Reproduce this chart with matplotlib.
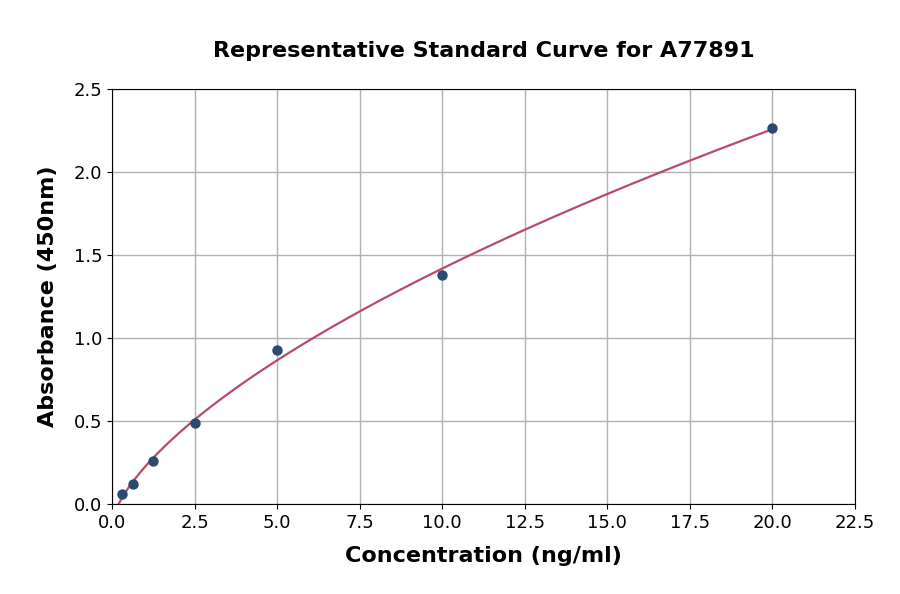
import numpy as np
import matplotlib
matplotlib.use('Agg')
import matplotlib.pyplot as plt

# Standard points
conc = [0.3125, 0.625, 1.25, 2.5, 5.0, 10.0, 20.0]
absorb = [0.06, 0.12, 0.259, 0.488, 0.928, 1.38, 2.265]

x_ticks = [0, 2.5, 5, 7.5, 10, 12.5, 15, 17.5, 20, 22.5]
y_ticks = [0, 0.5, 1.0, 1.5, 2.0, 2.5]

title = 'Representative Standard Curve for A77891'
x_label = 'Concentration (ng/ml)'
y_label = 'Absorbance (450nm)'


# 4PL fit: grid over slope/midpoint, linear solve for top/bottom
def fit_4pl(x, y):
    x = np.asarray(x)
    y = np.asarray(y)
    best = None
    for b in np.linspace(0.5, 2.0, 151):
        for c in np.logspace(0, 3, 301):
            g = 1.0 / (1.0 + (x / c) ** b)
            A = np.column_stack([g, 1 - g])
            coef, res, _, _ = np.linalg.lstsq(A, y, rcond=None)
            err = np.sum((A @ coef - y) ** 2)
            if best is None or err < best[0]:
                best = (err, coef[0], b, c, coef[1])
    return best[1:]


a, b, c, d = fit_4pl(conc, absorb)
xs = np.linspace(0.08, max(conc), 400)
ys = d + (a - d) / (1.0 + (xs / c) ** b)

fig = plt.figure(figsize=(9, 5.94), dpi=100)
ax = fig.add_axes([0.1244, 0.1515, 0.8256, 0.6987])

ax.plot(xs, ys, color='#b84a6e', linewidth=1.6, zorder=3)
ax.scatter(conc, absorb, color='#2a4a6e', s=42, zorder=4)

ax.set_xlim(0, 22.5)
ax.set_ylim(0, 2.5)
ax.set_xticks(x_ticks)
ax.set_xticklabels([f'{t:.1f}' for t in x_ticks])
ax.set_yticks(y_ticks)
ax.set_yticklabels([f'{t:.1f}' for t in y_ticks])
ax.tick_params(labelsize=13)
ax.grid(True, color='#b0b0b0', linewidth=1)
ax.set_axisbelow(True)

ax.set_xlabel(x_label, fontsize=16, fontweight='bold', labelpad=10)
ax.set_ylabel(y_label, fontsize=16, fontweight='bold', labelpad=11)
ax.set_title(title, fontsize=16, fontweight='bold', pad=23)

fig.savefig('out.png', dpi=100)
